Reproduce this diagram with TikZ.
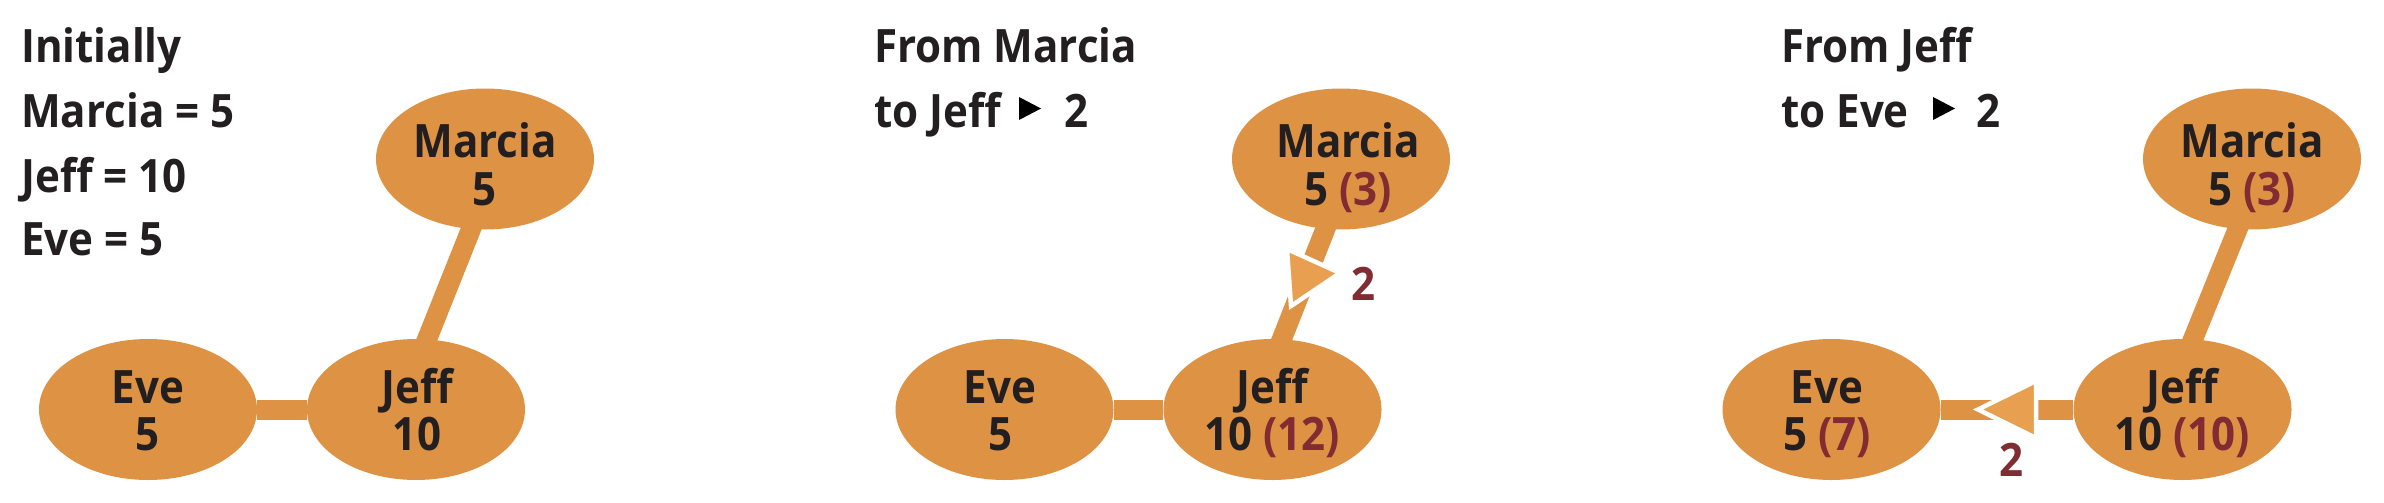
\documentclass[tikz,border=0pt]{standalone}
\usepackage{fontspec}
\setmainfont{Open Sans}[FakeStretch=0.915]
\usetikzlibrary{shapes.geometric}
\definecolor{nodeor}{RGB}{222,146,68}
\definecolor{arrowor}{RGB}{232,160,80}
\definecolor{valred}{RGB}{128,44,50}
\definecolor{ink}{RGB}{35,31,32}
\newcommand{\chg}[1]{\textcolor{valred}{(#1)}}
\pgfdeclarelayer{bg}
\pgfdeclarelayer{edges}
\pgfsetlayers{bg,edges,main}
\begin{document}
\begin{tikzpicture}[x=1pt,y=-1pt,
  person/.style={ellipse, fill=nodeor, minimum width=218pt, minimum height=141pt, inner sep=0pt},
  txt/.style={inner sep=0pt, text=ink, font=\bfseries\fontsize{46}{46}\selectfont},
  head/.style={txt, anchor=base west},
  inl/.style={txt, anchor=base},
  link/.style={draw=nodeor, line width=20pt},
  flow/.style={fill=arrowor, draw=white, line width=4.5pt, line join=miter},
  legendtri/.style={fill=black},
  amount/.style={txt, text=valred}]
\begin{pgfonlayer}{bg}
\fill[white] (0,0) rectangle (2384,503);
\end{pgfonlayer}
\useasboundingbox (0,0) rectangle (2384,503);

% ---------- panel 1 ----------
\node[head] (h1a) at (21,63) {Initially};
\node[head] (h1b) at (21,127) {Marcia = 5};
\node[head] (h1c) at (21,192) {Jeff = 10};
\node[head] (h1d) at (21,255) {Eve = 5};

\node[person] (e1) at (148,409.5) {};
\node[person] (j1) at (416,409.5) {};
\node[person] (m1) at (485,159) {};
\node[inl] (e1n) at (148,403) {Eve};
\node[inl] (e1v) at (148,450) {5};
\node[inl] (j1n) at (417,403) {Jeff};
\node[inl] (j1v) at (417,450) {10};
\node[inl] (m1n) at (485,157) {Marcia};
\node[inl] (m1v) at (485,205) {5};
\begin{pgfonlayer}{edges}
\draw[link] (e1) -- (j1);
\draw[link] ([xshift=14pt]m1.center) -- ([xshift=-17pt]j1.center);
\end{pgfonlayer}

% ---------- panel 2 ----------
\node[head] (h2a) at (874,63) {From Marcia};
\node[head] (h2b) at (874,127) {to Jeff};
\fill[legendtri] (1019,97) -- (1041,108.5) -- (1019,120) -- cycle;
\node[head] (h2c) at (1064,127) {2};

\node[person] (e2) at (1004.5,409.5) {};
\node[person] (j2) at (1272.5,409.5) {};
\node[person] (m2) at (1341,159) {};
\node[inl] (e2n) at (1000,403) {Eve};
\node[inl] (e2v) at (1000,450) {5};
\node[inl] (j2n) at (1272,403) {Jeff};
\node[inl] (j2v) at (1272,450) {10 \chg{12}};
\node[inl] (m2n) at (1348,157) {Marcia};
\node[inl] (m2v) at (1348,205) {5 \chg{3}};
\begin{pgfonlayer}{edges}
\draw[link] (e2) -- (j2);
\draw[link] ([xshift=12pt]m2.center) -- ([xshift=-18.5pt]j2.center);
\end{pgfonlayer}
\filldraw[flow] (1287,249) -- (1340,273) -- (1291,306) -- cycle;
\node[amount, anchor=base west] (f2) at (1351,300) {2};

% ---------- panel 3 ----------
\node[head] (h3a) at (1781,63) {From Jeff};
\node[head] (h3b) at (1781,127) {to Eve};
\fill[legendtri] (1933,97) -- (1955,108.5) -- (1933,120) -- cycle;
\node[head] (h3c) at (1976,127) {2};

\node[person] (e3) at (1831.5,409.5) {};
\node[person] (j3) at (2182.5,409.5) {};
\node[person] (m3) at (2252,159) {};
\node[inl] (e3n) at (1827,403) {Eve};
\node[inl] (e3v) at (1827,450) {5 \chg{7}};
\node[inl] (j3n) at (2182,403) {Jeff};
\node[inl] (j3v) at (2182,450) {10 \chg{10}};
\node[inl] (m3n) at (2252,157) {Marcia};
\node[inl] (m3v) at (2252,205) {5 \chg{3}};
\begin{pgfonlayer}{edges}
\draw[link] (e3) -- (j3);
\draw[link] ([xshift=14pt]m3.center) -- ([xshift=-18pt]j3.center);
\end{pgfonlayer}
\filldraw[flow] (1978,409.5) -- (2036,381) -- (2036,438) -- cycle;
\node[amount, anchor=base] (f3) at (2011.5,476) {2};
\end{tikzpicture}
\end{document}
